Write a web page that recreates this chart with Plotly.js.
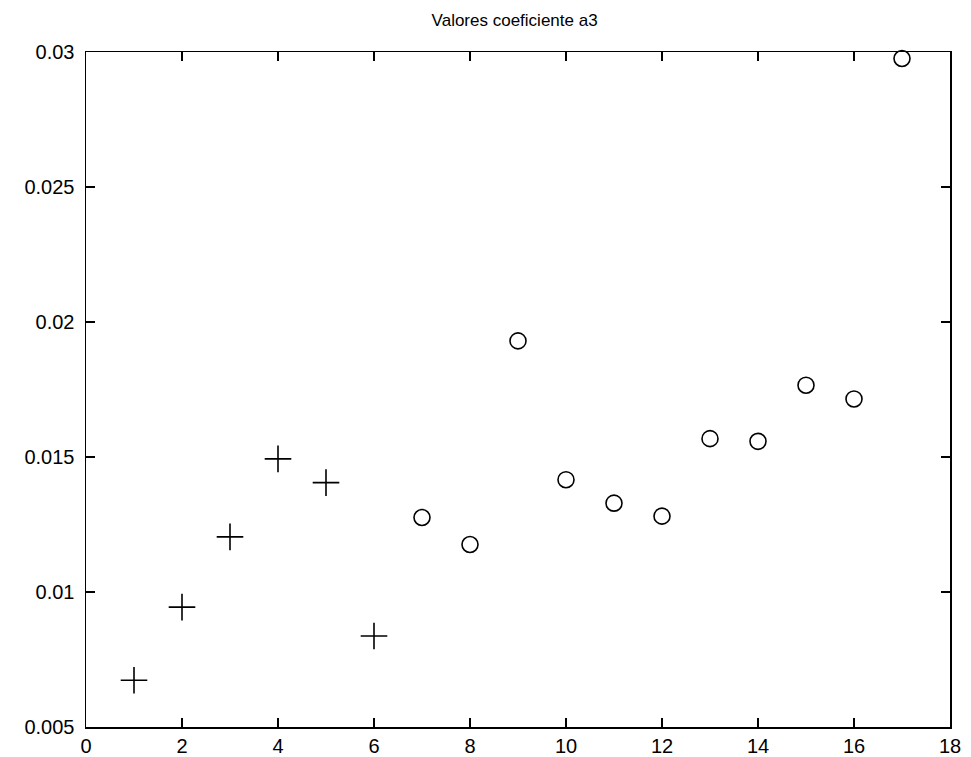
<!DOCTYPE html>
<html>
<head>
<meta charset="utf-8">
<script src="https://cdn.plot.ly/plotly-3.0.1.min.js"></script>
<style>html,body{margin:0;padding:0;background:#fff;}#chart{width:971px;height:757px;}</style>
</head>
<body>
<div id="chart"></div>
<script>
// Data
const plusX = [1, 2, 3, 4, 5, 6];
const plusY = [0.00673, 0.00944, 0.01204, 0.01493, 0.01405, 0.00837];
const circleX = [7, 8, 9, 10, 11, 12, 13, 14, 15, 16, 17];
const circleY = [0.01276, 0.01176, 0.0193, 0.01416, 0.01329, 0.01281, 0.01568, 0.01558, 0.01766, 0.01715, 0.02976];
const xTickVals = [0, 2, 4, 6, 8, 10, 12, 14, 16, 18];
const xTickText = ["0", "2", "4", "6", "8", "10", "12", "14", "16", "18"];
const yTickVals = [0.005, 0.01, 0.015, 0.02, 0.025, 0.03];
const yTickText = ["0.005", "0.01", "0.015", "0.02", "0.025", "0.03"];
const titleText = "Valores coeficiente a3";

const traces = [
  {
    x: plusX, y: plusY, type: "scatter", mode: "markers",
    marker: {symbol: "cross-thin-open", size: 19, color: "#000", line: {color: "#000", width: 1.6}},
    cliponaxis: false, showlegend: false
  },
  {
    x: circleX, y: circleY, type: "scatter", mode: "markers",
    marker: {symbol: "circle-open", size: 16, color: "#000", line: {color: "#000", width: 1.6}},
    cliponaxis: false, showlegend: false
  }
];

const axisCommon = {
  showgrid: false, zeroline: false, showline: true, linecolor: "#000", linewidth: 1.5,
  mirror: "ticks", ticks: "inside", ticklen: 9, tickwidth: 1.2, tickcolor: "#000",
  tickfont: {family: "Liberation Sans, Arial, sans-serif", size: 20, color: "#000"},
  tickmode: "array"
};

const layout = {
  width: 971, height: 757,
  margin: {l: 86, r: 21, t: 52, b: 30},
  paper_bgcolor: "#fff", plot_bgcolor: "#fff",
  title: {text: titleText, x: 0.53, xanchor: "center", y: 0.973, yanchor: "middle",
          font: {family: "Liberation Sans, Arial, sans-serif", size: 17, color: "#000"}},
  xaxis: Object.assign({}, axisCommon, {range: [0, 18], tickvals: xTickVals, ticktext: xTickText, ticklabelstandoff: 0}),
  yaxis: Object.assign({}, axisCommon, {range: [0.005, 0.03], tickvals: yTickVals, ticktext: yTickText, ticklabelstandoff: 6})
};

Plotly.newPlot("chart", traces, layout, {displayModeBar: false, staticPlot: true});
</script>
</body>
</html>
